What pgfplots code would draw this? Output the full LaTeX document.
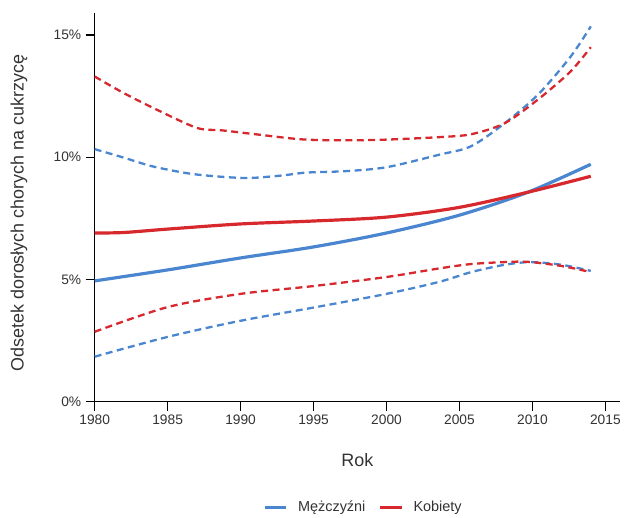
\documentclass[border=0pt]{standalone}
\usepackage{pgfplots}
\pgfplotsset{compat=1.18}
\usepackage{fontspec}
\setmainfont{Liberation Sans}
\definecolor{cblue}{HTML}{4A86D0}
\definecolor{cred}{HTML}{D6282D}
\definecolor{tgray}{HTML}{333333}
\begin{document}
\begin{tikzpicture}
\begin{axis}[
  name=ax,
  scale only axis,
  width=527pt, height=390pt,
  xmin=1980, xmax=2016, ymin=0, ymax=15.9,
  axis lines*=left,
  axis line style={black, line width=1.6pt},
  tick style={black, line width=1.4pt},
  major tick length=9pt,
  tick align=outside,
  xtick={1980,1985,1990,1995,2000,2005,2010,2015},
  xticklabels={1980,1985,1990,1995,2000,2005,2010,2015},
  ytick={0,5,10,15},
  yticklabels={0\%,5\%,10\%,15\%},
  /pgf/number format/assume math mode=true,
  ticklabel style={font=\fontsize{13.8}{16}\selectfont, text=tgray},
  xticklabel style={yshift=-1pt},
  yticklabel style={xshift=-1pt},
  xlabel={Rok},
  ylabel={Odsetek dorosłych chorych na cukrzycę},
  label style={font=\fontsize{18}{21}\selectfont, text=tgray},
  xlabel style={at={(axis description cs:0.5,0)}, anchor=center, yshift=-59pt},
  ylabel style={at={(axis description cs:-0.144,0.485)}, anchor=center, rotate=0},
  legend columns=2,
  legend style={at={(axis description cs:0.5,0)}, anchor=center, yshift=-106pt, xshift=6pt,
    draw=none, font=\fontsize{14.5}{16}\selectfont, text=tgray,
    /tikz/every odd column/.append style={column sep=8pt},
    /tikz/every even column/.append style={column sep=11pt}},
  legend image code/.code={\draw[#1, solid] (0pt,0pt) -- (22pt,0pt);},
  clip=false,
]
% Men upper CI
\addplot[cblue, line width=2.3pt, dash pattern=on 7pt off 4.5pt, smooth, forget plot] coordinates {
(1980,10.33) (1982,9.98) (1984,9.62) (1986.5,9.33) (1988.7,9.2) (1990.6,9.15) (1992.8,9.25) (1994.5,9.37) (1997.2,9.43) (2000,9.59) (2003.6,10.1) (2005.8,10.45) (2008.1,11.39) (2010.4,12.57) (2012.6,14.1) (2014,15.35)};
% Women upper CI
\addplot[cred, line width=2.3pt, dash pattern=on 7pt off 4.5pt, smooth, forget plot] coordinates {
(1980,13.3) (1982,12.62) (1984.2,11.96) (1987,11.2) (1988.7,11.1) (1991,10.94) (1994.2,10.73) (1997.2,10.69) (2000,10.72) (2003.6,10.82) (2005.8,10.94) (2008.1,11.39) (2010.4,12.37) (2012.6,13.5) (2014,14.5)};
% Men lower CI
\addplot[cblue, line width=2.3pt, dash pattern=on 7pt off 4.5pt, smooth, forget plot] coordinates {
(1980,1.84) (1985,2.65) (1990,3.31) (1995,3.85) (2000,4.41) (2003.6,4.9) (2005.8,5.3) (2008.1,5.6) (2009.9,5.71) (2012,5.6) (2014,5.35)};
% Women lower CI
\addplot[cred, line width=2.3pt, dash pattern=on 7pt off 4.5pt, smooth, forget plot] coordinates {
(1980,2.86) (1985,3.87) (1990,4.41) (1995,4.73) (2000,5.1) (2003.6,5.45) (2005.8,5.63) (2008.1,5.71) (2009.7,5.72) (2012,5.55) (2014,5.3)};
% Men
\addplot[cblue, line width=3.2pt, smooth] coordinates {
(1980,4.94) (1985,5.39) (1990,5.88) (1995,6.33) (2000,6.9) (2005,7.63) (2009.7,8.57) (2014,9.71)};
\addlegendentry{Mężczyźni}
% Women
\addplot[cred, line width=3.2pt, smooth] coordinates {
(1980,6.9) (1982,6.92) (1985,7.06) (1990,7.27) (1995,7.39) (2000,7.55) (2005,7.95) (2009.7,8.57) (2014,9.22)};
\addlegendentry{Kobiety}
\end{axis}
\path ([yshift=13pt]ax.north);
\path ([xshift=-95pt]ax.south west);
\end{tikzpicture}
\end{document}
